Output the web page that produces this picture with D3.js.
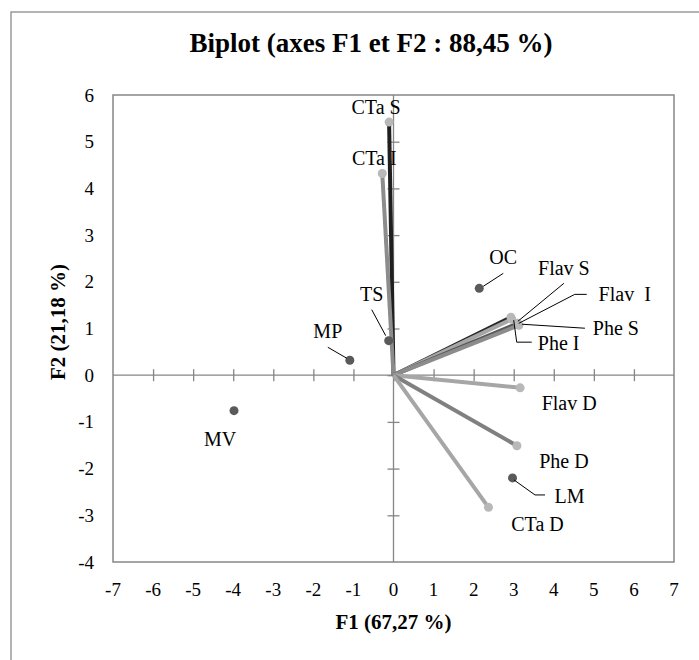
<!DOCTYPE html>
<html>
<head>
<meta charset="utf-8">
<script src="https://cdn.jsdelivr.net/npm/d3@7"></script>
<style>
  html, body { margin: 0; padding: 0; background: #fff; }
  svg { display: block; }
  text { font-family: "Liberation Serif", "Times New Roman", serif; fill: #000; }
</style>
</head>
<body>
<svg id="chart" width="699" height="660"></svg>
<script>
// ---- Data ----
const title = "Biplot (axes F1 et F2 : 88,45 %)";
const xTitle = "F1 (67,27 %)";
const yTitle = "F2 (21,18 %)";
const xTicks = [-7, -6, -5, -4, -3, -2, -1, 0, 1, 2, 3, 4, 5, 6, 7];
const yTicks = [-4, -3, -2, -1, 0, 1, 2, 3, 4, 5, 6];

// variables (vectors from origin)
const varNames = ["CTa S", "CTa I", "Flav S", "Phe I", "Flav I", "Phe S", "Flav D", "Phe D", "CTa D"];
const varF1    = [-0.11, -0.28, 2.93, 2.95, 3.10, 3.13, 3.16, 3.08, 2.37];
const varF2    = [ 5.42,  4.32, 1.24, 1.20, 1.11, 1.07, -0.27, -1.51, -2.83];

// observations
const obsNames = ["OC", "MP", "TS", "MV", "LM"];
const obsF1    = [2.14, -1.09, -0.12, -3.98, 2.97];
const obsF2    = [1.86,  0.32,  0.74, -0.76, -2.20];

// ---- Styles / layout ----
const varLineColor = {
  "CTa S": "#1f1f1f", "CTa I": "#8c8c8c", "Flav S": "#262626", "Phe I": "#a6a6a6",
  "Flav I": "#595959", "Phe S": "#8c8c8c", "Flav D": "#a6a6a6", "Phe D": "#808080", "CTa D": "#a6a6a6"
};
// label offsets (px, relative to the point) and leader polylines (px offsets)
const labelLayout = {
  "CTa S":  { dx: -13, dy: -8 },
  "CTa I":  { dx: -8,  dy: -8.5 },
  "Flav S": { dx: 53,  dy: -42, leader: [[53, -34], [7, 4]] },
  "Flav I": { dx: 107, dy: -22, text: "Flav\u00a0\u00a0I", leader: [[69, -29], [57, -29], [1, 0]] },
  "Phe S":  { dx: 97,  dy: 10,  leader: [[66, 3], [3, -1]] },
  "Phe I":  { dx: 47,  dy: 31,  leader: [[20, 23], [5, 23], [2, 1]] },
  "Flav D": { dx: 49,  dy: 22 },
  "Phe D":  { dx: 47,  dy: 22 },
  "CTa D":  { dx: 49,  dy: 24 },
  "OC":     { dx: 24,  dy: -24, leader: [[24, -15], [4, -2]] },
  "MP":     { dx: -22, dy: -22, leader: [[-22, -13], [-3, -2]] },
  "TS":     { dx: -17, dy: -40, leader: [[-17, -31], [-3, -5]] },
  "MV":     { dx: -14, dy: 35 },
  "LM":     { dx: 57,  dy: 25, leader: [[32.5, 17], [22.5, 17], [1.5, 2]] }
};

const svg = d3.select("#chart");
const plot = { left: 113, right: 674, top: 95, bottom: 562 };
const x = d3.scaleLinear().domain([-7, 7]).range([plot.left, plot.right]);
const y = d3.scaleLinear().domain([-4, 6]).range([plot.bottom, plot.top]);
const gridColor = "#868686";

// outer chart border
svg.append("path")
  .attr("d", "M11,661 L11,12 L700,12")
  .attr("fill", "none").attr("stroke", "#9a9a9a").attr("stroke-width", 1.5);

// title
svg.append("text").attr("x", 371).attr("y", 52)
  .attr("text-anchor", "middle").attr("font-size", 27).attr("font-weight", "bold")
  .text(title);

// plot border
svg.append("rect")
  .attr("x", plot.left).attr("y", plot.top)
  .attr("width", plot.right - plot.left).attr("height", plot.bottom - plot.top)
  .attr("fill", "none").attr("stroke", gridColor).attr("stroke-width", 1.5);

// axes through origin with cross ticks
const xAxisG = svg.append("g").attr("transform", `translate(0,${y(0)})`)
  .call(d3.axisBottom(x).tickValues(xTicks.filter(d => d > -7 && d < 7)).tickSize(0).tickFormat(""));
xAxisG.select(".domain").attr("stroke", gridColor).attr("stroke-width", 1.3)
  .attr("d", `M${plot.left},0H${plot.right}`);
xAxisG.selectAll(".tick").append("line").attr("y1", -6).attr("y2", 6)
  .attr("stroke", gridColor).attr("stroke-width", 1.3);

const yAxisG = svg.append("g").attr("transform", `translate(${x(0)},0)`)
  .call(d3.axisLeft(y).tickValues(yTicks.filter(d => d > -4 && d < 6)).tickSize(0).tickFormat(""));
yAxisG.select(".domain").attr("stroke", gridColor).attr("stroke-width", 1.3)
  .attr("d", `M0,${plot.top}V${plot.bottom}`);
yAxisG.selectAll(".tick").append("line").attr("x1", -6).attr("x2", 6)
  .attr("stroke", gridColor).attr("stroke-width", 1.3);

// tick labels at plot edges
svg.append("g").selectAll("text").data(xTicks).join("text")
  .attr("x", d => x(d)).attr("y", 596)
  .attr("text-anchor", "middle").attr("font-size", 19)
  .text(d => d);
svg.append("g").selectAll("text").data(yTicks).join("text")
  .attr("x", 94).attr("y", d => y(d) + 6.5)
  .attr("text-anchor", "end").attr("font-size", 19)
  .text(d => d);

// axis titles
svg.append("text").attr("x", x(0)).attr("y", 629)
  .attr("text-anchor", "middle").attr("font-size", 21).attr("font-weight", "bold")
  .text(xTitle);
svg.append("text").attr("transform", `translate(65,${322}) rotate(-90)`)
  .attr("text-anchor", "middle").attr("font-size", 21).attr("font-weight", "bold")
  .text(yTitle);

// vectors
const vars = varNames.map((n, i) => ({ name: n, f1: varF1[i], f2: varF2[i] }));
const obs = obsNames.map((n, i) => ({ name: n, f1: obsF1[i], f2: obsF2[i] }));

svg.append("g").selectAll("line").data(vars).join("line")
  .attr("x1", x(0)).attr("y1", y(0))
  .attr("x2", d => x(d.f1)).attr("y2", d => y(d.f2))
  .attr("stroke", d => varLineColor[d.name]).attr("stroke-width", 4);
svg.append("g").selectAll("circle").data(vars).join("circle")
  .attr("cx", d => x(d.f1)).attr("cy", d => y(d.f2)).attr("r", 4.5)
  .attr("fill", "#b8b8b8");

// observations
svg.append("g").selectAll("circle").data(obs).join("circle")
  .attr("cx", d => x(d.f1)).attr("cy", d => y(d.f2)).attr("r", 4.5)
  .attr("fill", "#5a5a5a");

// labels and leaders
const all = vars.concat(obs);
const line = d3.line();
svg.append("g").selectAll("path").data(all.filter(d => labelLayout[d.name].leader)).join("path")
  .attr("d", d => line(labelLayout[d.name].leader.map(p => [x(d.f1) + p[0], y(d.f2) + p[1]])))
  .attr("fill", "none").attr("stroke", "#000").attr("stroke-width", 1);
svg.append("g").selectAll("text").data(all).join("text")
  .attr("x", d => x(d.f1) + labelLayout[d.name].dx)
  .attr("y", d => y(d.f2) + labelLayout[d.name].dy)
  .attr("text-anchor", "middle").attr("font-size", 20)
  .text(d => labelLayout[d.name].text || d.name);
</script>
</body>
</html>
